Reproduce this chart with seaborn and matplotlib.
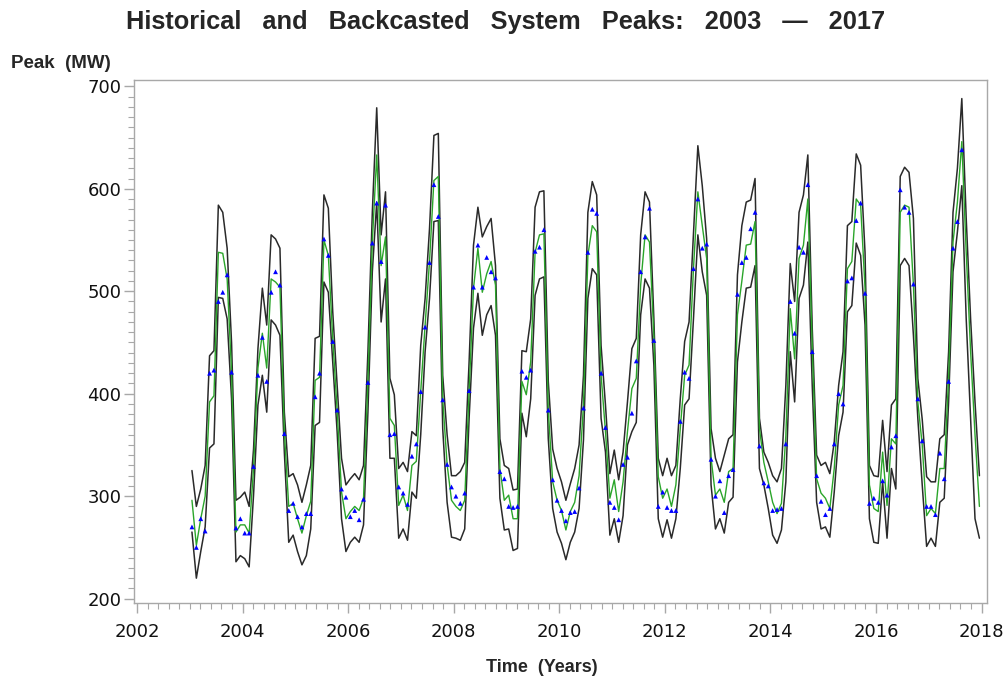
import numpy as np
import pandas as pd
import seaborn as sns
import matplotlib.pyplot as plt
from matplotlib.ticker import MultipleLocator

# monthly system peaks, Jan 2003 - Dec 2017 (MW)
actual = [
    270, 250, 278, 266, 420, 423, 490, 499, 516, 421, 269, 278,
    264, 264, 329, 418, 455, 412, 499, 519, 506, 361, 286, 293,
    280, 270, 283, 283, 397, 420, 551, 535, 451, 384, 307, 299,
    280, 286, 277, 297, 411, 547, 586, 529, 584, 360, 361, 309,
    303, 292, 339, 351, 402, 465, 528, 604, 573, 394, 331, 309,
    300, 293, 303, 403, 504, 545, 504, 533, 519, 513, 324, 317,
    290, 289, 290, 422, 416, 423, 539, 543, 560, 384, 316, 296,
    286, 276, 284, 285, 308, 386, 538, 580, 576, 420, 367, 294,
    289, 277, 331, 338, 381, 432, 519, 553, 581, 452, 290, 304,
    289, 286, 286, 373, 421, 415, 522, 590, 542, 546, 336, 300,
    315, 284, 320, 326, 497, 528, 533, 561, 577, 349, 313, 310,
    286, 287, 288, 351, 490, 459, 543, 538, 604, 441, 320, 295,
    282, 288, 351, 400, 390, 510, 513, 569, 586, 498, 293, 298,
    294, 315, 301, 348, 359, 599, 582, 577, 507, 395, 354, 290,
    290, 282, 342, 317, 412, 542, 568, 638, None, None, None, None,
]
backcast = [
    296, 252, 278, 300, 392, 398, 538, 537, 512, 421, 265, 272,
    272, 264, 327, 425, 459, 425, 512, 509, 504, 363, 290, 293,
    278, 264, 281, 295, 413, 416, 550, 535, 454, 384, 304, 278,
    285, 290, 286, 298, 412, 548, 633, 525, 553, 376, 369, 291,
    301, 286, 330, 334, 402, 467, 529, 608, 612, 395, 331, 296,
    290, 286, 296, 402, 503, 542, 499, 517, 529, 506, 327, 296,
    301, 278, 278, 412, 399, 431, 538, 555, 556, 384, 314, 296,
    286, 267, 285, 294, 320, 389, 535, 564, 558, 418, 363, 298,
    316, 285, 314, 363, 405, 415, 506, 555, 548, 457, 319, 298,
    307, 290, 311, 366, 418, 428, 522, 597, 564, 532, 337, 301,
    307, 294, 324, 327, 477, 510, 545, 546, 568, 366, 333, 314,
    294, 283, 293, 359, 483, 434, 532, 545, 590, 447, 317, 303,
    298, 288, 327, 389, 408, 522, 529, 590, 584, 503, 311, 288,
    285, 343, 291, 356, 351, 577, 584, 582, 506, 392, 350, 281,
    288, 283, 327, 327, 415, 548, 587, 646, 538, 441, 360, 290,
]
upper = [
    325, 290, 307, 330, 437, 442, 584, 577, 542, 450, 296, 299,
    304, 290, 346, 444, 503, 467, 555, 551, 542, 382, 319, 322,
    311, 294, 311, 330, 454, 456, 594, 581, 480, 408, 337, 311,
    317, 322, 316, 330, 441, 577, 679, 555, 597, 415, 399, 327,
    333, 324, 363, 359, 447, 493, 561, 652, 654, 418, 360, 320,
    320, 324, 333, 431, 545, 582, 553, 563, 571, 525, 356, 330,
    327, 306, 307, 442, 441, 473, 582, 597, 598, 412, 346, 327,
    314, 296, 312, 327, 350, 418, 577, 607, 594, 447, 389, 322,
    345, 316, 343, 392, 444, 454, 555, 597, 587, 473, 337, 320,
    337, 320, 330, 395, 451, 470, 555, 642, 603, 551, 366, 337,
    324, 340, 356, 360, 516, 564, 587, 589, 610, 376, 343, 333,
    320, 314, 327, 408, 527, 490, 577, 594, 633, 464, 340, 330,
    333, 322, 353, 408, 441, 564, 568, 634, 623, 538, 330, 320,
    319, 374, 324, 389, 395, 612, 621, 616, 571, 415, 375, 319,
    314, 314, 356, 360, 441, 577, 620, 688, 571, 473, 392, 320,
]
lower = [
    265, 220, 246, 270, 347, 351, 494, 493, 473, 395, 236, 242,
    239, 231, 301, 389, 418, 382, 472, 467, 457, 343, 255, 262,
    246, 233, 242, 268, 369, 372, 509, 499, 431, 363, 278, 246,
    255, 260, 255, 272, 382, 519, 587, 470, 512, 337, 337, 259,
    268, 257, 304, 298, 360, 441, 493, 568, 569, 366, 294, 260,
    259, 257, 268, 376, 464, 498, 457, 477, 486, 457, 298, 267,
    268, 247, 249, 381, 358, 395, 496, 512, 514, 356, 288, 265,
    254, 238, 255, 265, 288, 355, 493, 522, 516, 376, 343, 262,
    278, 255, 281, 350, 363, 372, 477, 512, 503, 428, 278, 260,
    277, 259, 278, 327, 389, 395, 473, 555, 519, 496, 311, 268,
    278, 264, 294, 299, 431, 470, 503, 504, 525, 327, 311, 288,
    262, 254, 267, 314, 441, 392, 493, 506, 548, 408, 294, 268,
    270, 260, 304, 359, 382, 480, 486, 547, 535, 467, 278, 255,
    254, 314, 259, 327, 307, 525, 532, 525, 457, 376, 311, 251,
    259, 251, 294, 298, 392, 519, 558, 603, 473, 376, 278, 259,
]

months = pd.date_range("2003-01-01", periods=len(backcast), freq="MS")
time_years = months.year + (months.month - 1) / 12 + 1 / 24

df = pd.DataFrame({
    "time": time_years,
    "actual": pd.to_numeric(pd.Series(actual), errors="coerce"),
    "backcast": backcast,
    "upper": upper,
    "lower": lower,
})

sns.set_style("white")
plt.rcParams["font.family"] = ["Liberation Sans", "DejaVu Sans"]

fig = plt.figure(figsize=(10.06, 6.8), dpi=100)
ax = fig.add_axes([0.133, 0.113, 0.848, 0.769])

for col in ["upper", "lower"]:
    sns.lineplot(data=df, x="time", y=col, color="#2a2a2a", linewidth=1.1,
                 estimator=None, ax=ax)
sns.lineplot(data=df, x="time", y="backcast", color="#2aa52a", linewidth=1.0,
             estimator=None, ax=ax)
sns.scatterplot(data=df.dropna(), x="time", y="actual", color="#0000ff",
                marker="^", s=12, edgecolor="none", ax=ax, zorder=5)

ax.set_xlim(2001.94, 2018.10)
ax.set_ylim(195.6, 705.9)
ax.xaxis.set_major_locator(MultipleLocator(2))
ax.xaxis.set_minor_locator(MultipleLocator(0.2))
ax.yaxis.set_major_locator(MultipleLocator(100))
ax.yaxis.set_minor_locator(MultipleLocator(10))

for side in ax.spines.values():
    side.set_color("#a8a8a8")
    side.set_linewidth(1.0)
ax.tick_params(axis="both", which="major", length=7, width=1.0,
               color="#a8a8a8")
ax.tick_params(axis="both", which="minor", length=4, width=0.8,
               color="#a8a8a8")
ax.tick_params(axis="x", which="major", pad=7)
ax.tick_params(axis="y", which="major", pad=2)
ax.tick_params(bottom=True, left=True, which="both")
for lab in ax.get_xticklabels() + ax.get_yticklabels():
    lab.set_family("DejaVu Sans")
    lab.set_fontsize(13)
    lab.set_color("#111111")
ax.set_xlabel("")
ax.set_ylabel("")

fig.text(0.503, 0.968,
         "Historical   and   Backcasted   System   Peaks:   2003   \u2014   2017",
         ha="center", va="center", fontsize=18.3, fontweight="bold")
fig.text(0.011, 0.906, "Peak  (MW)", ha="left", va="center",
         fontsize=13.5, fontweight="bold")
fig.text(0.539, 0.019, "Time  (Years)", ha="center", va="center",
         fontsize=13, fontweight="bold")

fig.savefig("out.png", dpi=100)
